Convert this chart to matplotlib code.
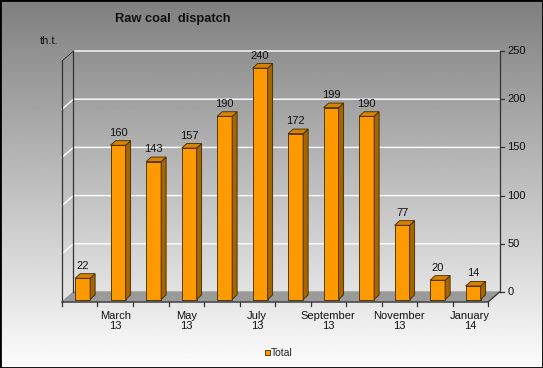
import numpy as np
import matplotlib.pyplot as plt
from matplotlib.colors import LinearSegmentedColormap

# datos
meses = ['February', 'March', 'April', 'May', 'June', 'July', 'August',
         'September', 'October', 'November', 'December', 'January']
anios = ['13', '13', '13', '13', '13', '13', '13', '13', '13', '13', '13', '14']
total = [22, 160, 143, 157, 190, 240, 172, 199, 190, 77, 20, 14]
ticks_y = [0, 50, 100, 150, 200, 250]

plt.rcParams['font.family'] = ['Liberation Sans', 'DejaVu Sans']

fig = plt.figure(figsize=(5.43, 3.68), dpi=100)

# fondo degradado
bg = fig.add_axes([0, 0, 1, 1], zorder=-1)
grad = np.linspace(0.50, 0.99, 256).reshape(-1, 1)
bg.imshow(grad, aspect='auto', cmap='gray', vmin=0, vmax=1, extent=[0, 1, 0, 1])
bg.set_axis_off()

ax = fig.add_axes([0, 0, 1, 1])
ax.patch.set_alpha(0)
ax.set_axis_off()
px = 35.5      # pixeles por categoria
py = 0.964     # pixeles por unidad
ax.set_xlim((0 - 79.75) / px, (543 - 79.75) / px)
ax.set_ylim((302 - 368) / py, (302 - 0) / py)

n = len(total)
ddx, ddy = 11.5 / px, 10 / py       # profundidad del piso
bdx, bdy = 5 / px, 4.6 / py         # profundidad de cada barra
fx, fy = 0.25 * ddx, 0.25 * ddy     # posicion de la barra en el piso
x0, x1 = -0.5, n - 0.5

# piso
ax.fill([x0, x1, x1 + ddx, x0 + ddx], [0, 0, ddy, ddy], color='#9a9a9a', zorder=1)
ax.plot([x0, x1, x1 + ddx], [0, 0, ddy], color='#333333', lw=0.9, zorder=2)

# rejilla
for t in ticks_y[1:]:
    ax.plot([x0, x0 + ddx, x1 + ddx], [t, t + ddy, t + ddy], color='white', lw=1.0, zorder=1)

# pared izquierda
ax.plot([x0, x0], [0, 250], color='#333333', lw=0.9, zorder=2)
ax.plot([x0 + ddx, x0 + ddx], [ddy, 250 + ddy], color='#333333', lw=0.9, zorder=2)
ax.plot([x0, x0 + ddx], [250, 250 + ddy], color='#333333', lw=0.9, zorder=2)

# eje derecho
ax.plot([x1 + ddx, x1 + ddx], [ddy, 250 + ddy], color='#333333', lw=0.9, zorder=2)
for t in ticks_y:
    ax.plot([x1 + ddx, x1 + ddx + 4 / px], [t + ddy, t + ddy], color='#333333', lw=0.9, zorder=2)
    ax.text(x1 + ddx + 8 / px, t + ddy, str(t), ha='left', va='center', fontsize=8, color='#111111')

# eje x
for k in range(n + 1):
    ax.plot([x0 + k, x0 + k], [0, -4 / py], color='#333333', lw=0.9, zorder=2)
for i in range(1, n, 2):
    ax.text(i, -9 / py, meses[i] + '\n' + anios[i], ha='center', va='top',
            fontsize=8, color='#111111', linespacing=1.05)

# barras
xs = np.arange(n) + fx
w = 15 / px
ax.bar(xs, total, width=w, bottom=fy, color='#FF9900', edgecolor='#3a2a00', lw=0.6, zorder=3)
for xc, v in zip(xs, total):
    l, r = xc - w / 2, xc + w / 2
    top = v + fy
    ax.fill([r, r + bdx, r + bdx, r], [fy, fy + bdy, top + bdy, top],
            facecolor='#A86400', edgecolor='#3a2a00', lw=0.6, zorder=3)
    ax.fill([l, r, r + bdx, l + bdx], [top, top, top + bdy, top + bdy],
            facecolor='#D98200', edgecolor='#3a2a00', lw=0.6, zorder=3)
    ax.text(xc, top + bdy + 5 / py, str(v), ha='center', va='baseline', fontsize=8, color='#111111')

# textos
fig.text(115 / 543, 1 - 19 / 368, 'Raw coal  dispatch', ha='left', va='center',
         fontsize=9.3, fontweight='bold', color='#111111')
fig.text(40 / 543, 1 - 41 / 368, 'th.t.', ha='left', va='center', fontsize=8, color='#111111')

# leyenda
fig.patches.append(plt.Rectangle((265 / 543, 1 - 355 / 368), 5 / 543, 5 / 368,
                                 transform=fig.transFigure, facecolor='#FF9900',
                                 edgecolor='#3a2a00', lw=0.6))
fig.text(271 / 543, 1 - 352.5 / 368, 'Total', ha='left', va='center', fontsize=7.5, color='#222222')

# borde
fig.patches.append(plt.Rectangle((0, 0), 1, 1, transform=fig.transFigure, fill=False,
                                 edgecolor='black', lw=2))

fig.savefig('out.png', dpi=100)
